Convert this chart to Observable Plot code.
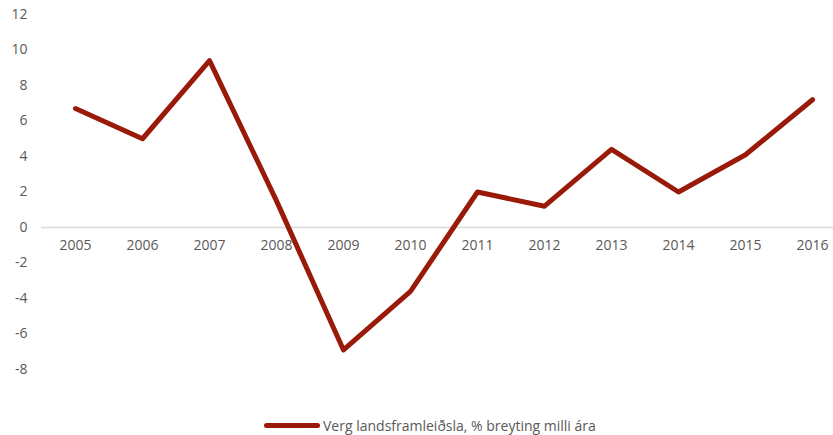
<!DOCTYPE html>
<html>
<head>
<meta charset="utf-8">
<script src="https://cdn.jsdelivr.net/npm/d3@7"></script>
<script src="https://cdn.jsdelivr.net/npm/@observablehq/plot@0.6"></script>
<style>
  html, body { margin: 0; padding: 0; background: #fff; }
  #chart { width: 833px; height: 435px; position: relative; font-family: "Open Sans", sans-serif; }
  #legend { position: absolute; left: 264px; top: 414px; height: 22px; display: flex; align-items: center; font-size: 14px; color: #595959; }
  #legend .sw { width: 56px; height: 5px; border-radius: 3px; background: #9a1a0a; margin-right: 3px; }
</style>
</head>
<body>
<div id="chart"><div id="legend"><span class="sw"></span><span>Verg landsframleiðsla, % breyting milli ára</span></div></div>
<script>
const years = ["2005","2006","2007","2008","2009","2010","2011","2012","2013","2014","2015","2016"];
const growth = [6.7, 5.0, 9.4, 1.5, -6.9, -3.6, 2.0, 1.2, 4.4, 2.0, 4.1, 7.2];
const yTicks = [-8, -6, -4, -2, 0, 2, 4, 6, 8, 10, 12];
const seriesName = "Verg landsframleiðsla, % breyting milli ára";

const data = years.map((y, i) => ({year: y, value: growth[i]}));

const plot = Plot.plot({
  width: 833,
  height: 410,
  marginLeft: 41,
  marginRight: 0,
  marginTop: 0,
  marginBottom: 0,
  style: {fontFamily: "Open Sans, sans-serif", fontSize: "14px", color: "#595959", background: "#fff"},
  x: {type: "point", domain: years, range: [75, 812], padding: 0, axis: null},
  y: {domain: [-8, 12], range: [369, 14], ticks: yTicks, tickSize: 0, tickPadding: 14, label: null, tickFormat: d => `${d}`},
  marks: [
    Plot.ruleY([0], {stroke: "#d9d9d9", strokeWidth: 1.5}),
    Plot.text(years, {x: d => d, y: 0, dy: 18, text: d => d, fill: "#595959", fontSize: 14}),
    Plot.line(data, {x: "year", y: "value", stroke: "#9a1a0a", strokeWidth: 5, strokeLinecap: "round", strokeLinejoin: "round"})
  ]
});
document.getElementById("chart").prepend(plot);
</script>
</body>
</html>
